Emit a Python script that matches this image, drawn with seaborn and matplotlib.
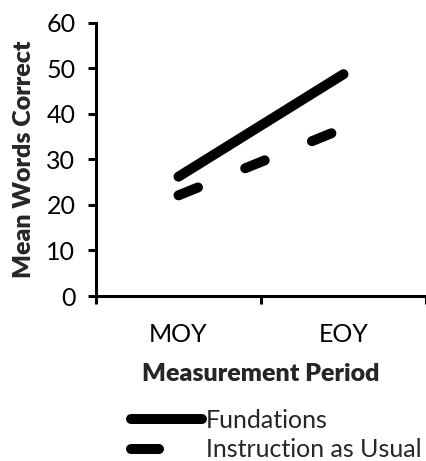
import matplotlib
matplotlib.use("Agg")
import matplotlib.pyplot as plt
import seaborn as sns
import pandas as pd
from matplotlib.lines import Line2D

periods = ["MOY", "EOY"]
fundations = [26.2, 48.7]
iau = [22.1, 36.8]
groups = ["Fundations", "Instruction as Usual"]

df = pd.DataFrame({
    "period": periods * 2,
    "value": fundations + iau,
    "group": [groups[0]] * 2 + [groups[1]] * 2,
})

sns.set_theme(style="white")
plt.rcParams["font.family"] = ["Lato", "DejaVu Sans"]

fig = plt.figure(figsize=(4.26, 4.61), dpi=100)
ax = fig.add_axes([96 / 426, 165 / 461, 330 / 426, (296 - 22.7) / 461])

lw = 7.2
sns.lineplot(data=df, x="period", y="value", hue="group", style="group",
             palette=["black", "black"],
             dashes={groups[0]: "", groups[1]: (2.1, 5.1)},
             linewidth=lw, legend=False, ax=ax,
             solid_capstyle="round", dash_capstyle="round", sort=False)

ax.set_xlim(-0.5, 1.5)
ax.set_ylim(0, 60)
ax.set_yticks(range(0, 61, 10))
ax.set_xticks([0, 1])
ax.set_xticks([-0.5, 0.5, 1.5], minor=True)
for s in ["top", "right"]:
    ax.spines[s].set_visible(False)
for s in ["left", "bottom"]:
    ax.spines[s].set_linewidth(2.2)
    ax.spines[s].set_color("black")

fs = 18
ax.tick_params(axis="y", which="major", length=5.8, width=2.2, direction="out",
               labelsize=fs, pad=9, left=True, colors="black")
ax.tick_params(axis="x", which="major", length=0, labelsize=fs, pad=19.5, colors="black")
ax.tick_params(axis="x", which="minor", length=5.8, width=2.2, direction="out",
               bottom=True, colors="black")
ax.set_ylabel("Mean Words Correct", fontsize=fs, fontweight="heavy", labelpad=8)
ax.set_xlabel("Measurement Period", fontsize=fs, fontweight="heavy", labelpad=12.5)

handles = [
    Line2D([], [], color="black", lw=lw, solid_capstyle="round"),
    Line2D([], [], color="black", lw=lw, dashes=(2.8, 5), dash_capstyle="round"),
]
fig.legend(handles, groups, loc="upper left", bbox_to_anchor=(131 / 426, 1 - 409 / 461),
           frameon=False, fontsize=fs, handlelength=2.85, handletextpad=0.15,
           labelspacing=0.25, borderaxespad=0, borderpad=0)

fig.savefig("out.png", dpi=100)
